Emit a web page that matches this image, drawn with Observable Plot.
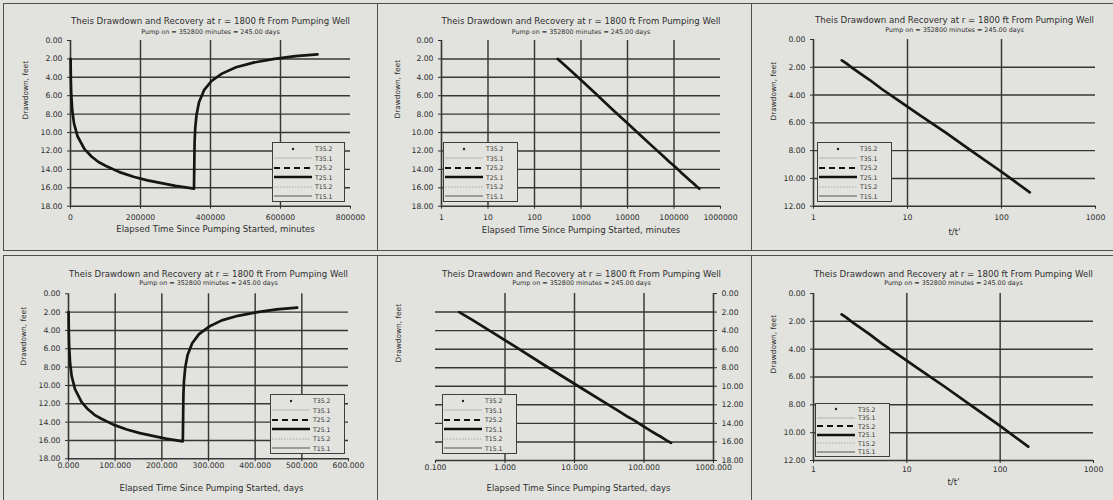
<!DOCTYPE html>
<html><head><meta charset="utf-8">
<script src="https://cdn.jsdelivr.net/npm/d3@7"></script>
<script src="https://cdn.jsdelivr.net/npm/@observablehq/plot@0.6"></script>
<style>
body{margin:0;background:#e2e3de;}
#root{position:relative;width:1113px;height:500px;overflow:hidden;background:#e2e3de;font-family:"DejaVu Sans",sans-serif;}
.box{position:absolute;border:1.5px solid #4e4e4e;box-sizing:border-box;}
.pan{position:absolute;}
.legend{position:absolute;border:1.2px solid #3e3e3e;background:#e2e3de;box-sizing:border-box;padding-top:1px;}
.lrow{display:flex;align-items:center;height:9.3px;}
.lrow span{font-size:6.2px;color:#333;margin-left:2px;line-height:9px;}
</style></head><body><div id="root"></div>
<script>
// ---------- data ----------
const chartTitle = "Theis Drawdown and Recovery at r = 1800 ft From Pumping Well";
const chartSubtitle = "Pump on = 352800 minutes = 245.00 days";
const pumpOffMinutes = 352800;
const minutesPerDay = 1440;

const pumpMinutes  = [316, 500, 1000, 2000, 5000, 10000, 20000, 40000, 60000, 80000, 100000, 140000, 180000, 220000, 260000, 300000, 352800];
const pumpDrawdown = [2.0, 2.9, 4.3, 5.7, 7.6, 9.0, 10.4, 11.8, 12.6, 13.2, 13.6, 14.3, 14.8, 15.2, 15.5, 15.8, 16.1];

const recoveryMinutes  = [354573, 356400, 360000, 367200, 381600, 402800, 432800, 472800, 522800, 582800, 642800, 705600];
const recoveryDrawdown = [11.0, 9.5, 8.1, 6.7, 5.4, 4.4, 3.6, 2.9, 2.4, 2.0, 1.7, 1.5];

const legendSeries = ["T35.2", "T35.1", "T25.2", "T25.1", "T15.2", "T15.1"];

const drawdownTicks18 = [0, 2, 4, 6, 8, 10, 12, 14, 16, 18];
const drawdownTicks12 = [0, 2, 4, 6, 8, 10, 12];
const minuteTicks = [0, 200000, 400000, 600000, 800000];
const minuteTickLabels = ["0", "200000", "400000", "600000", "800000"];
const minuteLogTicks = [1, 10, 100, 1000, 10000, 100000, 1000000];
const minuteLogTickLabels = ["1", "10", "100", "1000", "10000", "100000", "1000000"];
const dayTicks = [0, 100, 200, 300, 400, 500, 600];
const dayTickLabels = ["0.000", "100.000", "200.000", "300.000", "400.000", "500.000", "600.000"];
const dayLogTicks = [0.1, 1, 10, 100, 1000];
const dayLogTickLabels = ["0.100", "1.000", "10.000", "100.000", "1000.000"];
const ratioTicks = [1, 10, 100, 1000];
const ratioTickLabels = ["1", "10", "100", "1000"];

// ---------- tables ----------
const pumpRows = pumpMinutes.map((m, i) => ({minutes: m, days: m / minutesPerDay, drawdown: pumpDrawdown[i]}));
const recRows = recoveryMinutes.map((m, i) => ({minutes: m, days: m / minutesPerDay, drawdown: recoveryDrawdown[i], ratio: m / (m - pumpOffMinutes)}));
const allRows = pumpRows.concat(recRows);

// ---------- styles ----------
const INK = "#2e2e2e";
const GRID = "#363636";
const FONT = "DejaVu Sans, sans-serif";
const legendStyles = [
  {dot: true},
  {stroke: "#b4b4ac", w: 1},
  {stroke: "#111", w: 2, dash: "6 4"},
  {stroke: "#111", w: 2.4},
  {stroke: "#a6a69e", w: 1, dash: "1.5 1.5"},
  {stroke: "#555", w: 1}
];

const root = document.getElementById("root");

function panel(c) {
  const box = document.createElement("div");
  box.className = "box";
  Object.assign(box.style, {left: c.box.x + "px", top: c.box.y + "px", width: c.box.w + "px", height: c.box.h + "px"});
  root.appendChild(box);

  const mL = c.plot.l - c.box.x, mR = c.box.x + c.box.w - c.plot.r;
  const mT = c.plot.t - c.box.y, mB = c.box.y + c.box.h - c.plot.b;
  const cy = (c.plot.t + c.plot.b) / 2;
  const labelMap = new Map(c.xTicks.map((t, i) => [t, c.xLabels[i]]));
  const yAxisAt = c.yAnchor === "right" ? c.xDomain[1] : c.xDomain[0];

  const chart = Plot.plot({
    width: c.box.w, height: c.box.h,
    marginLeft: mL, marginRight: mR, marginTop: mT, marginBottom: mB,
    style: {background: "transparent", color: INK, fontFamily: FONT, fontSize: "7.8px", overflow: "visible"},
    x: {type: c.xType, domain: c.xDomain},
    y: {domain: [0, c.yMax], reverse: true},
    marks: [
      Plot.ruleY(c.yGrid, {stroke: GRID, strokeWidth: 1.45}),
      Plot.ruleX(c.xGrid, {stroke: GRID, strokeWidth: 1.45}),
      Plot.ruleY([c.yMax], {stroke: GRID, strokeWidth: 1.6}),
      Plot.ruleX([yAxisAt], {stroke: GRID, strokeWidth: 1.6}),
      Plot.axisY(c.yTicks, {anchor: c.yAnchor, tickSize: 3, tickPadding: 5, tickFormat: d => d.toFixed(2), label: null, fontSize: 7.7}),
      Plot.axisX(c.xTicks, {anchor: "bottom", tickSize: 3, tickPadding: Math.max(1, c.xTickY - 3.5 - c.plot.b - 3), tickFormat: d => labelMap.get(d), label: null, fontSize: 7.7}),
      Plot.line(c.data, {x: c.xField, y: "drawdown", stroke: "#151515", strokeWidth: 2.7, strokeLinejoin: "round"}),
      Plot.text([chartTitle], {frameAnchor: "top", dy: c.titleY - c.plot.t, dx: c.titleDx || 0, fontSize: 8.6, fill: INK}),
      Plot.text([chartSubtitle], {frameAnchor: "top", dy: c.subY - c.plot.t, dx: c.titleDx || 0, fontSize: 6.4, fill: INK}),
      Plot.text([c.xLabel], {frameAnchor: "bottom", dy: c.xLabelY - c.plot.b, dx: c.xLabelDx || 0, fontSize: 8.6, fill: INK}),
      Plot.text(["Drawdown, feet"], {frameAnchor: "left", rotate: -90, dx: c.yLabelX - c.plot.l, dy: c.yLabelY - cy, fontSize: 7.4, fill: INK})
    ]
  });
  chart.classList.add("pan");
  Object.assign(chart.style, {left: c.box.x + "px", top: c.box.y + "px"});
  root.appendChild(chart);

  // legend
  const lg = document.createElement("div");
  lg.className = "legend";
  Object.assign(lg.style, {left: c.legend.x + "px", top: c.legend.y + "px", width: c.legend.w + "px", height: c.legend.h + "px"});
  const rowH = (c.legend.h - 3) / legendSeries.length;
  legendSeries.forEach((name, i) => {
    const row = document.createElement("div");
    row.className = "lrow";
    row.style.height = rowH + "px";
    const st = legendStyles[i];
    const ns = "http://www.w3.org/2000/svg";
    const s = document.createElementNS(ns, "svg");
    s.setAttribute("width", 40); s.setAttribute("height", 8);
    if (st.dot) {
      const ci = document.createElementNS(ns, "circle");
      ci.setAttribute("cx", 20); ci.setAttribute("cy", 4); ci.setAttribute("r", 1.2); ci.setAttribute("fill", "#222");
      s.appendChild(ci);
    } else {
      const ln = document.createElementNS(ns, "line");
      ln.setAttribute("x1", 1); ln.setAttribute("x2", 39); ln.setAttribute("y1", 4); ln.setAttribute("y2", 4);
      ln.setAttribute("stroke", st.stroke); ln.setAttribute("stroke-width", st.w);
      if (st.dash) ln.setAttribute("stroke-dasharray", st.dash);
      s.appendChild(ln);
    }
    row.appendChild(s);
    const sp = document.createElement("span");
    sp.textContent = name;
    row.appendChild(sp);
    lg.appendChild(row);
  });
  root.appendChild(lg);
}

const grid18 = [2, 4, 6, 8, 10, 12, 14, 16];
const grid12 = [2, 4, 6, 8, 10];

panel({
  box: {x: 3, y: 3, w: 375, h: 248}, plot: {l: 70, r: 350, t: 40, b: 205.7},
  xType: "linear", xDomain: [0, 800000], xTicks: minuteTicks, xLabels: minuteTickLabels, xGrid: [200000, 400000, 600000],
  yMax: 18, yTicks: drawdownTicks18, yGrid: grid18, yAnchor: "left",
  data: allRows, xField: "minutes",
  titleY: 17, subY: 29, xTickY: 218, xLabelY: 231, xLabelDx: 5, yLabelX: 25, yLabelY: 119,
  xLabel: "Elapsed Time Since Pumping Started, minutes",
  legend: {x: 272, y: 142, w: 73, h: 60}
});
panel({
  box: {x: 377, y: 3, w: 375, h: 248}, plot: {l: 441, r: 720, t: 40, b: 205.7},
  xType: "log", xDomain: [1, 1000000], xTicks: minuteLogTicks, xLabels: minuteLogTickLabels, xGrid: [10, 100, 1000, 10000, 100000],
  yMax: 18, yTicks: drawdownTicks18, yGrid: grid18, yAnchor: "left",
  data: pumpRows, xField: "minutes",
  titleY: 17, subY: 29, xTickY: 218, xLabelY: 232, yLabelX: 397, yLabelY: 118,
  xLabel: "Elapsed Time Since Pumping Started, minutes",
  legend: {x: 443, y: 142, w: 75, h: 60}
});
panel({
  box: {x: 751, y: 3, w: 364, h: 248}, plot: {l: 813, r: 1095, t: 39, b: 205.7},
  xType: "log", xDomain: [1, 1000], xTicks: ratioTicks, xLabels: ratioTickLabels, xGrid: [10, 100],
  yMax: 12, yTicks: drawdownTicks12, yGrid: grid12, yAnchor: "left",
  data: recRows, xField: "ratio",
  titleY: 16, subY: 27, xTickY: 218, xLabelY: 234, yLabelX: 773, yLabelY: 120,
  xLabel: "t/t'",
  legend: {x: 817, y: 142, w: 75, h: 60}
});
panel({
  box: {x: 3, y: 255, w: 375, h: 248}, plot: {l: 68, r: 348, t: 293.3, b: 458.3},
  xType: "linear", xDomain: [0, 600], xTicks: dayTicks, xLabels: dayTickLabels, xGrid: [100, 200, 300, 400, 500],
  yMax: 18, yTicks: drawdownTicks18, yGrid: grid18, yAnchor: "left",
  data: allRows, xField: "days",
  titleY: 270, subY: 280, xTickY: 466, xLabelY: 490, xLabelDx: 3, yLabelX: 23, yLabelY: 365,
  xLabel: "Elapsed Time Since Pumping Started, days",
  legend: {x: 270, y: 394, w: 75, h: 60}
});
panel({
  box: {x: 377, y: 255, w: 375, h: 248}, plot: {l: 435, r: 713, t: 293, b: 460},
  xType: "log", xDomain: [0.1, 1000], xTicks: dayLogTicks, xLabels: dayLogTickLabels, xGrid: [1, 10, 100],
  yMax: 18, yTicks: drawdownTicks18, yGrid: grid18, yAnchor: "right",
  data: pumpRows, xField: "days",
  titleY: 270, subY: 280, titleDx: 7, xTickY: 466, xLabelY: 490, xLabelDx: 4, yLabelX: 398, yLabelY: 362,
  xLabel: "Elapsed Time Since Pumping Started, days",
  legend: {x: 442, y: 394, w: 75, h: 60}
});
panel({
  box: {x: 751, y: 255, w: 364, h: 248}, plot: {l: 813, r: 1093, t: 293, b: 460},
  xType: "log", xDomain: [1, 1000], xTicks: ratioTicks, xLabels: ratioTickLabels, xGrid: [10, 100],
  yMax: 12, yTicks: drawdownTicks12, yGrid: grid12, yAnchor: "left",
  data: recRows, xField: "ratio",
  titleY: 270, subY: 280, xTickY: 470, xLabelY: 484, yLabelX: 773, yLabelY: 373,
  xLabel: "t/t'",
  legend: {x: 815, y: 403, w: 75, h: 54}
});
</script></body></html>
